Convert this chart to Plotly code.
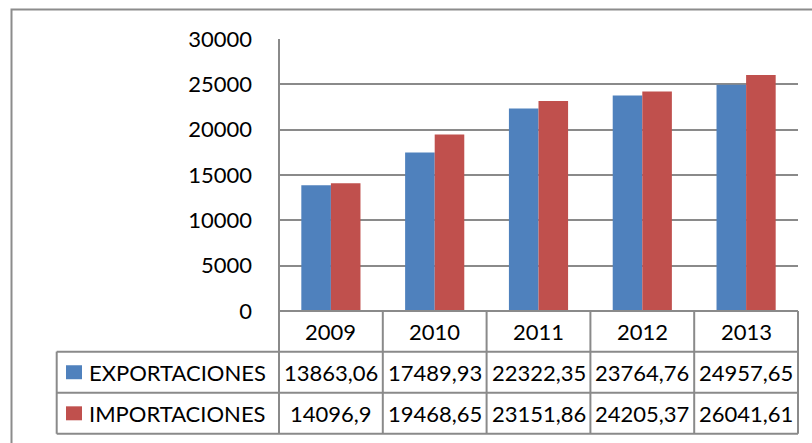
import plotly.graph_objects as go

years = ["2009", "2010", "2011", "2012", "2013"]
exportaciones = [13863.06, 17489.93, 22322.35, 23764.76, 24957.65]
importaciones = [14096.9, 19468.65, 23151.86, 24205.37, 26041.61]
series_names = ["EXPORTACIONES", "IMPORTACIONES"]
colors = ["#4F81BD", "#C0504D"]
y_ticks = [0, 5000, 10000, 15000, 20000, 25000, 30000]

W, H = 812, 443
PL, PR, PT, PB = 279, 798, 38.5, 311
FONT = "Lato"
FS = 22
GRID = "#8a8a8a"

def fx(px):
    return (px - PL) / (PR - PL)

def fy(py):
    return (PB - py) / (PB - PT)

fig = go.Figure()
for name, vals, col in zip(series_names, [exportaciones, importaciones], colors):
    fig.add_trace(go.Bar(x=years, y=vals, name=name, marker=dict(color=col, line=dict(width=0)),
                         showlegend=False))

shapes = []
annotations = []

# outer border
shapes.append(dict(type="rect", xref="paper", yref="paper",
                   x0=fx(11.5), x1=fx(830), y0=fy(9), y1=fy(460),
                   line=dict(color="#8c8c8c", width=2), layer="below"))

row_year = (PB, 351.7)
row_exp = (351.7, 393)
row_imp = (393, 434)
leg_left = 56.7
ncat = len(years)
colw = (PR - PL) / ncat

line_style = dict(color=GRID, width=2)
for y in [PB, 351.7, 393, 434]:
    x0 = PL if y == PB else leg_left
    shapes.append(dict(type="line", xref="paper", yref="paper", x0=fx(x0), x1=fx(PR),
                       y0=fy(y), y1=fy(y), line=line_style))
for i in range(ncat + 1):
    xp = PL + i * colw
    top = PT if i == 0 else PB
    shapes.append(dict(type="line", xref="paper", yref="paper", x0=fx(xp), x1=fx(xp),
                       y0=fy(top), y1=fy(434), line=line_style))
shapes.append(dict(type="line", xref="paper", yref="paper", x0=fx(leg_left), x1=fx(leg_left),
                   y0=fy(351.7), y1=fy(434), line=line_style))

txtfont = dict(family=FONT, size=FS, color="black")

for i, yr in enumerate(years):
    annotations.append(dict(x=i, y=fy(sum(row_year) / 2), xref="x", yref="paper",
                            text=yr, showarrow=False, font=txtfont,
                            xanchor="center", yanchor="middle"))

def fmt(v):
    return str(v).replace(".", ",")

for name, vals, col, row in zip(series_names, [exportaciones, importaciones], colors, [row_exp, row_imp]):
    cy = sum(row) / 2
    shapes.append(dict(type="rect", xref="paper", yref="paper", x0=fx(66), x1=fx(82),
                       y0=fy(cy - 7), y1=fy(cy + 7), fillcolor=col, line=dict(width=0)))
    annotations.append(dict(x=fx(87), y=fy(cy), xref="paper", yref="paper", text=name,
                            showarrow=False, xanchor="left", yanchor="middle", font=txtfont))
    for i, v in enumerate(vals):
        annotations.append(dict(x=i, y=fy(cy), xref="x", yref="paper", text=fmt(v),
                                showarrow=False, xanchor="center", yanchor="middle",
                                font=txtfont))

fig.update_layout(
    width=W, height=H,
    margin=dict(l=PL, r=W - PR, t=PT, b=H - PB, pad=0),
    paper_bgcolor="white", plot_bgcolor="white",
    barmode="group", bargap=0.43, bargroupgap=0,
    shapes=shapes, annotations=annotations,
    font=txtfont,
    xaxis=dict(type="category", showticklabels=False, showgrid=False, zeroline=False,
               showline=False, ticks="", range=[-0.5, ncat - 0.5]),
    yaxis=dict(range=[0, 30000], tickvals=y_ticks, ticktext=[str(t) for t in y_ticks],
               showgrid=True, gridcolor=GRID, gridwidth=2, zeroline=False, showline=False,
               ticks="", ticklabelstandoff=26, tickfont=txtfont),
)

fig.write_html("out.html", config={"displayModeBar": False},
               post_script="document.body.style.margin='0';document.body.style.overflow='hidden';")
